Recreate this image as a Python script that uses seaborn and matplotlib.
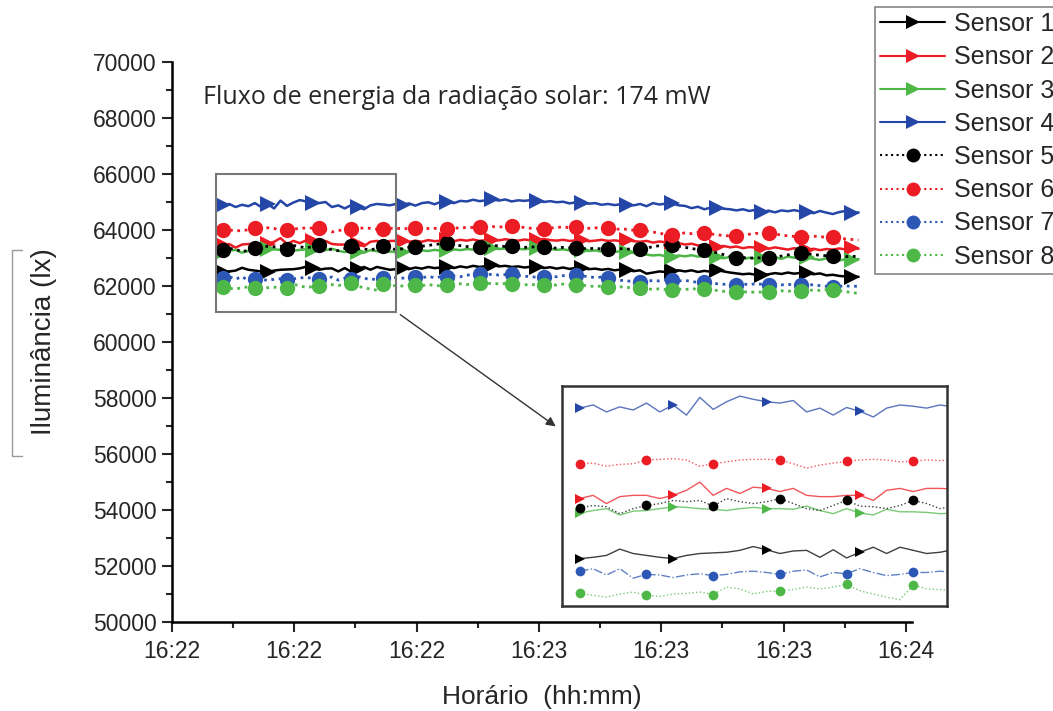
import numpy as np
import pandas as pd
import seaborn as sns

import matplotlib
matplotlib.use("Agg")  # headless mode (no GUI)

import matplotlib.pyplot as plt
from matplotlib.lines import Line2D
from matplotlib.patches import Rectangle, FancyArrowPatch
from matplotlib.ticker import MultipleLocator, FuncFormatter

# sample times: seconds after 16:22:00, one reading every ~1.05 s
T0 = 8.3
DT = 1.05
N_SAMPLES = 100

sensor_names = ["Sensor 1", "Sensor 2", "Sensor 3", "Sensor 4",
                "Sensor 5", "Sensor 6", "Sensor 7", "Sensor 8"]

sensor_1 = [62500, 62520, 62550, 62650, 62580, 62550, 62520, 62500, 62550, 62580,
            62590, 62600, 62630, 62690, 62640, 62580, 62620, 62630, 62520, 62640,
            62510, 62600, 62680, 62580, 62680, 62630, 62580, 62600,
            62640, 62600, 62660, 62620, 62680, 62640, 62660,
            62680, 62640, 62700, 62660, 62720, 62680, 62710,
            62750, 62700, 62720, 62680, 62700, 62660, 62690,
            62680, 62640, 62670, 62620, 62660, 62610, 62650,
            62640, 62600, 62620, 62580, 62610, 62560, 62590,
            62570, 62530, 62560, 62440, 62480, 62520, 62500,
            62530, 62560, 62520, 62560, 62500, 62540, 62510,
            62570, 62520, 62480, 62450, 62420, 62440, 62400,
            62390, 62420, 62460, 62430, 62480, 62440, 62470,
            62460, 62420, 62450, 62380, 62400, 62360, 62340,
            62320, 62330]

sensor_2 = [63450, 63500, 63370, 63480, 63500, 63500, 63450, 63500, 63580, 63710,
            63500, 63610, 63530, 63630, 63610, 63560, 63610, 63500, 63480, 63480,
            63500, 63500, 63420, 63580, 63610, 63560, 63610, 63610,
            63600, 63570, 63620, 63580, 63640, 63600, 63620,
            63640, 63600, 63650, 63620, 63660, 63610, 63640,
            63660, 63630, 63670, 63640, 63620, 63660, 63630,
            63650, 63680, 63640, 63620, 63650, 63610, 63630,
            63640, 63600, 63620, 63650, 63610, 63630, 63600,
            63640, 63600, 63580, 63610, 63550, 63590, 63560,
            63570, 63530, 63480, 63510, 63450, 63470, 63420,
            63400, 63430, 63380, 63410, 63350, 63390, 63370,
            63360, 63330, 63380, 63340, 63300, 63350, 63310,
            63290, 63330, 63280, 63320, 63300, 63340, 63310,
            63350, 63330]

sensor_3 = [63220, 63260, 63290, 63190, 63250, 63260, 63290, 63320, 63310, 63290,
            63280, 63260, 63290, 63310, 63290, 63290, 63280, 63330, 63260, 63210,
            63290, 63220, 63190, 63280, 63240, 63240, 63230, 63210,
            63220, 63250, 63230, 63270, 63250, 63290, 63260,
            63290, 63310, 63280, 63320, 63300, 63340, 63310,
            63350, 63320, 63340, 63300, 63330, 63310, 63350,
            63350, 63310, 63330, 63290, 63310, 63270, 63300,
            63290, 63250, 63270, 63230, 63260, 63220, 63240,
            63210, 63180, 63150, 63120, 63090, 63110, 63060,
            63040, 63090, 63060, 63100, 63050, 63080, 63040,
            63030, 62990, 63040, 63000, 62960, 63010, 62980,
            63000, 62950, 63030, 62970, 63050, 63010, 63040,
            63030, 62970, 62930, 62990, 62950, 62910, 62960,
            62930, 62960]

sensor_4 = [64880, 64930, 64820, 64900, 64850, 64960, 64820, 64930, 64770, 65050,
            64860, 64980, 65070, 65020, 64980, 64960, 65000, 64820, 64880, 64770,
            64890, 64830, 64740, 64880, 64930, 64910, 64880, 64930,
            64900, 64950, 64870, 64960, 64990, 64920, 65010,
            65000, 64960, 65040, 65020, 65080, 65030, 65060,
            65100, 65050, 65090, 65020, 65060, 65040, 65070,
            65050, 65000, 65030, 64990, 65010, 64950, 64990,
            64970, 64940, 64960, 64900, 64930, 64890, 64920,
            64900, 64880, 64930, 64850, 64960, 64910, 64940,
            64950, 64880, 64860, 64780, 64830, 64740, 64800,
            64800, 64760, 64740, 64700, 64740, 64680, 64720,
            64650, 64690, 64630, 64700, 64670, 64710, 64660,
            64650, 64600, 64680, 64620, 64570, 64640, 64680,
            64600, 64630]

sensor_5 = [63300, 63340, 63320, 63210, 63290, 63340, 63370, 63420, 63400, 63420,
            63330, 63450, 63400, 63370, 63400, 63450, 63370, 63290, 63260, 63340,
            63420, 63330, 63320, 63290, 63340, 63420, 63370, 63290,
            63330, 63380, 63390, 63420, 63450, 63480, 63510,
            63530, 63480, 63440, 63410, 63380, 63390, 63420,
            63450, 63430, 63410, 63430, 63400, 63380, 63390,
            63400, 63390, 63370, 63350, 63380, 63360, 63360,
            63340, 63330, 63350, 63320, 63320, 63310, 63330,
            63320, 63310, 63320, 63360, 63400, 63440, 63460,
            63460, 63420, 63380, 63340, 63300, 63290, 63240,
            63180, 63120, 63060, 63000, 63020, 62990, 63010,
            63000, 63000, 63030, 63070, 63110, 63150, 63180,
            63160, 63120, 63100, 63080, 63070, 63060, 63050,
            63060, 63050]

sensor_6 = [64000, 64010, 63960, 63990, 64000, 64060, 64070, 64080, 64060, 63960,
            64000, 64030, 64060, 64070, 64070, 64060, 64000, 63930, 63980, 64010,
            64040, 64060, 64070, 64060, 64030, 64040, 64060, 64050,
            64060, 64040, 64070, 64090, 64050, 64060, 64030,
            64040, 64080, 64060, 64100, 64090, 64110, 64080,
            64120, 64100, 64130, 64140, 64110, 64090, 64060,
            64050, 64040, 64070, 64090, 64110, 64080, 64110,
            64090, 64060, 64080, 64050, 64070, 64040, 64020,
            64030, 63990, 64000, 63960, 63930, 63880, 63850,
            63820, 63860, 63900, 63870, 63910, 63890, 63860,
            63830, 63800, 63790, 63790, 63820, 63850, 63880,
            63870, 63890, 63860, 63820, 63790, 63770, 63750,
            63760, 63780, 63760, 63740, 63750, 63720, 63680,
            63660, 63640]

sensor_7 = [62300, 62340, 62240, 62340, 62190, 62250, 62240, 62200, 62240, 62260,
            62230, 62250, 62290, 62300, 62280, 62250, 62300, 62320, 62210, 62280,
            62260, 62340, 62280, 62230, 62250, 62280, 62280, 62300,
            62280, 62310, 62320, 62290, 62340, 62300, 62330,
            62320, 62360, 62330, 62390, 62400, 62430, 62400,
            62420, 62390, 62410, 62430, 62380, 62350, 62330,
            62310, 62320, 62350, 62330, 62370, 62350, 62390,
            62360, 62330, 62300, 62320, 62290, 62250, 62200,
            62180, 62160, 62140, 62170, 62200, 62180, 62220,
            62210, 62180, 62200, 62160, 62130, 62140, 62100,
            62080, 62060, 62090, 62040, 62070, 62050, 62080,
            62060, 62050, 62070, 62040, 62060, 62030, 62050,
            62020, 62050, 62010, 61990, 61960, 61990, 62010,
            61980, 62000]

sensor_8 = [61950, 61920, 61890, 61940, 61970, 61920, 61900, 61940, 61950, 61970,
            61930, 62050, 62020, 61940, 61980, 61990, 62010, 62050, 62020, 62050,
            62090, 61990, 61940, 61890, 61850, 62080, 62020, 62010,
            62000, 62030, 62040, 62010, 62050, 62020, 62000,
            62030, 62060, 62080, 62050, 62090, 62110, 62080,
            62100, 62070, 62090, 62060, 62070, 62040, 62060,
            62030, 62040, 62060, 62030, 62070, 62040, 62050,
            62030, 62000, 61980, 62000, 61960, 61940, 61970,
            61950, 61920, 61930, 61900, 61880, 61900, 61870,
            61860, 61890, 61870, 61910, 61880, 61900, 61860,
            61840, 61810, 61830, 61790, 61800, 61770, 61790,
            61780, 61790, 61800, 61830, 61810, 61840, 61820,
            61830, 61860, 61840, 61870, 61850, 61830, 61800,
            61760, 61740]

all_values = [sensor_1, sensor_2, sensor_3, sensor_4,
              sensor_5, sensor_6, sensor_7, sensor_8]

# styles per sensor
colors = ["#000000", "#ec1c24", "#4db848", "#2446a6",
          "#000000", "#ec1c24", "#2c57b5", "#4db848"]
markers = [">", ">", ">", ">", "o", "o", "o", "o"]
linestyles = ["-", "-", "-", "-", ":", ":", ":", ":"]
inset_linestyles = ["-", "-", "-", "-", ":", ":", "-.", ":"]

t = T0 + DT * np.arange(N_SAMPLES)
frames = []
for name, vals in zip(sensor_names, all_values):
    frames.append(pd.DataFrame({"t": t, "lux": vals, "sensor": name}))
df = pd.concat(frames, ignore_index=True)

sns.set_style("ticks")
plt.rcParams["font.family"] = ["Liberation Sans", "DejaVu Sans"]

fig = plt.figure(figsize=(10.53, 7.11), dpi=100)
ax = fig.add_axes([0.1633, 0.1252, 0.7028, 0.7876])

for i, name in enumerate(sensor_names):
    sub = df[df["sensor"] == name]
    sns.lineplot(data=sub, x="t", y="lux", ax=ax, color=colors[i],
                 linestyle=linestyles[i], linewidth=1.8 if i < 4 else 2.0,
                 marker=markers[i], markersize=12 if i < 4 else 11,
                 markeredgewidth=0, markevery=7 if i < 4 else 5,
                 errorbar=None, legend=False)

ax.set_xlim(0, 121)
ax.set_ylim(50000, 70000)
ax.xaxis.set_major_locator(MultipleLocator(20))
ax.xaxis.set_minor_locator(MultipleLocator(10))
ax.yaxis.set_major_locator(MultipleLocator(2000))
ax.yaxis.set_minor_locator(MultipleLocator(1000))
ax.xaxis.set_major_formatter(FuncFormatter(lambda v, p: f"16:{22 + int(v // 60):02d}"))
ax.tick_params(axis="both", which="major", length=7, width=1.5, labelsize=16.5, pad=4)
ax.tick_params(axis="x", which="major", pad=6)
ax.tick_params(axis="both", which="minor", length=4, width=1.5)
sns.despine(ax=ax)
for s in ["left", "bottom"]:
    ax.spines[s].set_linewidth(1.8)
    ax.spines[s].set_color("black")
ax.set_xlabel("Horário  (hh:mm)", fontsize=19, labelpad=16)
ax.set_ylabel("Iluminância (lx)", fontsize=20, labelpad=26)

fig.text(203 / 1053, 1 - 97 / 711, "Fluxo de energia da radiação solar: 174 mW",
         fontsize=18, family=["Open Sans", "DejaVu Sans"], va="center", ha="left")

# zoom rectangle and arrow
ax.add_patch(Rectangle((7.2, 61070), 29.4, 4930, fill=False,
                       edgecolor="#777777", linewidth=1.5, zorder=5))
fig.add_artist(FancyArrowPatch(
    (398 / 1053, 1 - 313 / 711), (558 / 1053, 1 - 428 / 711),
    transform=fig.transFigure, arrowstyle="-|>", mutation_scale=14,
    color="#333333", linewidth=1.0))

# stray bracket line at the left edge
fig.add_artist(Line2D([22 / 1053, 12 / 1053, 12 / 1053, 22 / 1053],
                      [1 - 250 / 711, 1 - 250 / 711, 1 - 456 / 711, 1 - 456 / 711],
                      transform=fig.transFigure, color="#999999", linewidth=1.0))

# inset with the first ~30 s
ax_in = fig.add_axes([0.5337, 0.1477, 0.3656, 0.3094])
for i, name in enumerate(sensor_names):
    sub = df[df["sensor"] == name]
    sns.lineplot(data=sub, x="t", y="lux", ax=ax_in, color=colors[i],
                 linestyle=inset_linestyles[i], linewidth=1.0, alpha=0.75,
                 errorbar=None, legend=False)
    sns.lineplot(data=sub, x="t", y="lux", ax=ax_in, color=colors[i],
                 linestyle="none", marker=markers[i],
                 markersize=7, markeredgewidth=0,
                 markevery=7 if i < 4 else 5, errorbar=None, legend=False)
ax_in.set_xlim(6.9, 37.2)
ax_in.set_ylim(61750, 65230)
ax_in.set_xticks([])
ax_in.set_yticks([])
ax_in.set_xlabel("")
ax_in.set_ylabel("")
for s in ax_in.spines.values():
    s.set_visible(True)
    s.set_linewidth(1.8)
    s.set_color("#333333")

# legend in the top right corner, kept inside the figure
handles = [Line2D([], [], color=colors[i], linestyle=linestyles[i], linewidth=1.5,
                  marker=markers[i], markersize=10, markeredgewidth=0)
           for i in range(8)]
leg = fig.legend(handles, sensor_names, loc="upper left",
                 bbox_to_anchor=(875 / 1053, 1 - 7 / 711), fontsize=18,
                 frameon=True, fancybox=False, handlelength=2.6,
                 handletextpad=0.35, labelspacing=0.37, borderpad=0.2,
                 borderaxespad=0)
leg.get_frame().set_edgecolor("#666666")
leg.get_frame().set_linewidth(1.2)

fig.savefig("out.png", dpi=100)
